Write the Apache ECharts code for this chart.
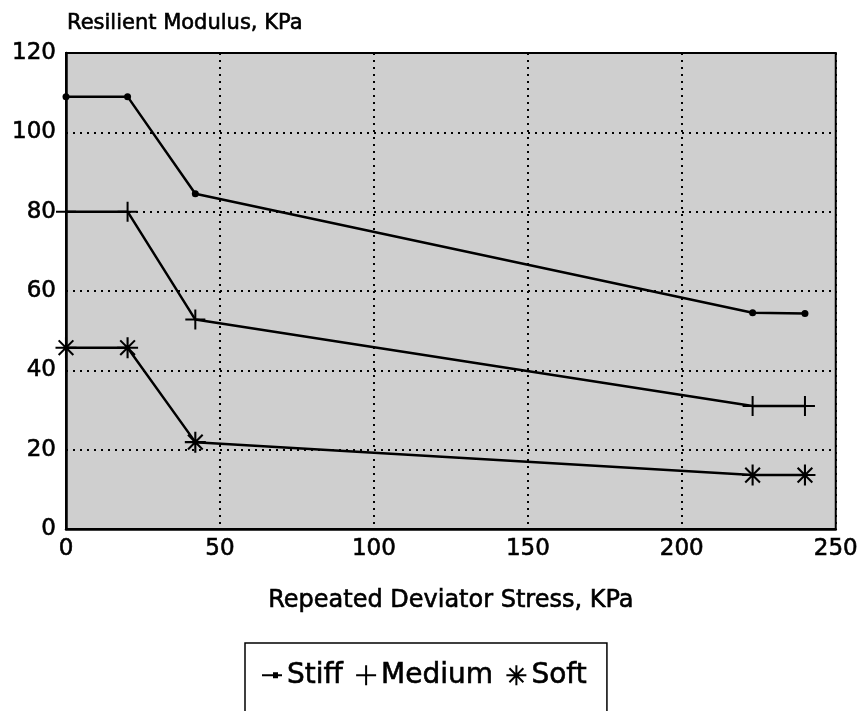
<!DOCTYPE html>
<html>
<head>
<meta charset="utf-8">
<script src="https://cdn.jsdelivr.net/npm/echarts@6/dist/echarts.min.js"></script>
<style>
  html, body { margin: 0; padding: 0; background: #fff; }
  #chart { width: 861px; height: 711px; }
</style>
</head>
<body>
<div id="chart"></div>
<script>
// values
const stress = [0, 20, 42, 223, 240];
const stiff = [109, 109, 84.5, 54.5, 54.3];
const medium = [80, 80, 52.8, 31, 31];
const soft = [45.7, 45.7, 21.9, 13.6, 13.6];
const xTicks = [0, 50, 100, 150, 200, 250];
const yTicks = [0, 20, 40, 60, 80, 100, 120];

const font = 'DejaVu Sans';
const plusPath = 'path://M-1,-10 L1,-10 L1,10 L-1,10 Z M-10,-1 L10,-1 L10,1 L-10,1 Z';
const starPath = 'path://M-1,-10 L1,-10 L1,10 L-1,10 Z M-10,-1 L10,-1 L10,1 L-10,1 Z ' +
  'M-6.3,-7.7 L7.7,6.3 L6.3,7.7 L-7.7,-6.3 Z M6.3,-7.7 L7.7,-6.3 L-6.3,7.7 L-7.7,6.3 Z';
// legend icons: short line with a dot / a plus / an asterisk
const stiffIcon = 'path://M0,9 L20,9 L20,11 L0,11 Z M11,7 L16,7 L16,13 L11,13 Z';
const plusIcon = 'path://M9,0 L11,0 L11,20 L9,20 Z M0,9 L20,9 L20,11 L0,11 Z';
const starIcon = starPath;

// scanned lettering is a little heavier than the plain font
const ink = { color: '#000', textBorderColor: '#000', textBorderWidth: 0.6 };

function txt(size) {
  return Object.assign({ fontFamily: font, fontSize: size, fontWeight: 'normal' }, ink);
}

function pairs(ys) {
  return stress.map(function (x, i) { return [x, ys[i]]; });
}

function lineSeries(name, ys, symbol, size) {
  return {
    name: name,
    type: 'line',
    data: pairs(ys),
    symbol: symbol,
    symbolSize: size,
    showAllSymbol: true,
    lineStyle: { color: '#000', width: 2.5 },
    itemStyle: { color: '#000' },
    emphasis: { disabled: true }
  };
}

const chart = echarts.init(document.getElementById('chart'));
chart.setOption({
  animation: false,
  backgroundColor: '#fff',
  textStyle: { fontFamily: font, color: '#000' },
  title: {
    text: 'Resilient Modulus, KPa',
    left: 62,
    top: 8,
    textStyle: txt(21)
  },
  legend: {
    data: [
      { name: 'Stiff', icon: stiffIcon },
      { name: 'Medium', icon: plusIcon },
      { name: 'Soft', icon: starIcon }
    ],
    left: 245,
    top: 643,
    padding: [18, 20, 40, 17],
    itemGap: 13,
    itemWidth: 20,
    itemHeight: 20,
    borderColor: '#000',
    borderWidth: 1.5,
    textStyle: txt(28)
  },
  grid: {
    left: 66,
    right: 25,
    top: 53,
    bottom: 182,
    show: true,
    backgroundColor: '#cfcfcf',
    borderColor: '#000',
    borderWidth: 2
  },
  xAxis: {
    type: 'value',
    min: xTicks[0],
    max: xTicks[xTicks.length - 1],
    interval: 50,
    name: 'Repeated Deviator Stress, KPa',
    nameLocation: 'middle',
    nameGap: 60,
    nameTextStyle: txt(24),
    axisLine: { lineStyle: { color: '#000', width: 2.5 } },
    axisTick: { show: false },
    axisLabel: Object.assign({ margin: 9 }, txt(23)),
    splitLine: { lineStyle: { color: '#000', type: [2, 5], width: 2 } }
  },
  yAxis: {
    type: 'value',
    min: yTicks[0],
    max: yTicks[yTicks.length - 1],
    interval: 20,
    axisLine: { show: true, lineStyle: { color: '#000', width: 2.5 } },
    axisTick: { show: false },
    axisLabel: Object.assign({ margin: 10 }, txt(23)),
    splitLine: { lineStyle: { color: '#000', type: [2, 5], width: 2 } }
  },
  series: [
    lineSeries('Stiff', stiff, 'circle', 7),
    lineSeries('Medium', medium, plusPath, 20),
    lineSeries('Soft', soft, starPath, 21)
  ]
});
</script>
</body>
</html>
